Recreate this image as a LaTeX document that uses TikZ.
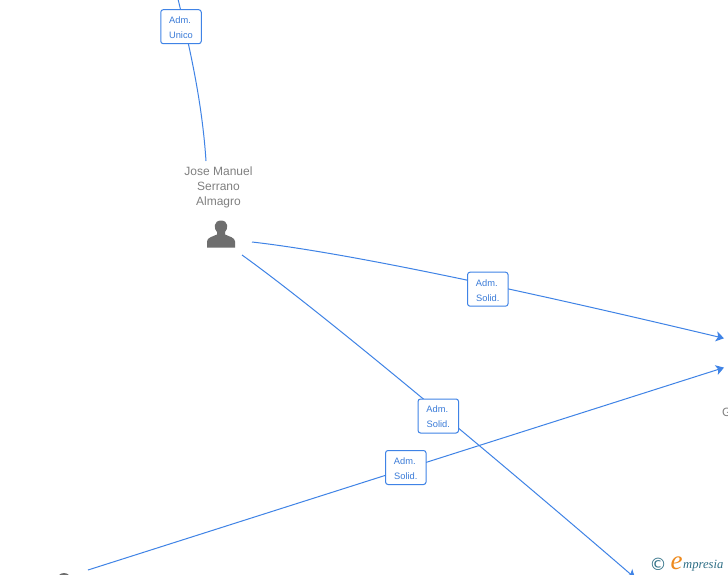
\documentclass[tikz,border=0pt]{standalone}
\usepackage{fontspec}
\setmainfont{Liberation Sans}
\newfontfamily\logoserif{Liberation Serif}
\newfontfamily\logosymbol{DejaVu Sans}
\usetikzlibrary{arrows.meta,backgrounds}
\definecolor{linkblue}{HTML}{3F83E6}
\definecolor{labelblue}{HTML}{3A7BD8}
\definecolor{persongray}{HTML}{6E6E6E}
\definecolor{textgray}{HTML}{808080}
\definecolor{logoteal}{HTML}{2F6F86}
\definecolor{logoorange}{HTML}{EE8A1D}
\newcommand{\rolelines}[2]{\rule{0pt}{9pt}#1\hspace*{2pt}\\#2}
\tikzset{
  link/.style={draw=linkblue,line width=1pt},
  linkarrow/.style={link,-{Stealth[length=8pt,width=10pt,inset=2pt]}},
  rolebox/.style={draw=linkblue,line width=1pt,fill=white,rounded corners=2.5pt,
    minimum width=40.5pt,minimum height=34pt,inner sep=0pt,align=center,
    font=\fontsize{9.3}{15}\selectfont,text=labelblue},
  personname/.style={font=\fontsize{12}{15}\selectfont,text=textgray,align=center,inner sep=0pt},
  personicon/.style={fill=persongray,draw=none}
}
\begin{document}
\begin{tikzpicture}[x=1pt,y=-1pt]
\useasboundingbox (0,0) rectangle (728,575);
\clip (0,0) rectangle (728,575);

\coordinate (topfree) at (178,-1);
\coordinate (topend) at (206,161);
\coordinate (personA) at (252,242);
\coordinate (personB) at (242,255);
\coordinate (targetA) at (724,338.3);
\coordinate (targetB) at (724,367.6);
\coordinate (targetC) at (635,578);
\coordinate (personC) at (88,570);

\node[rolebox] (unico) at (181,26.7) {\rolelines{Adm.}{Unico}};
\node[rolebox] (solA) at (487.8,289.2) {\rolelines{Adm.}{Solid.}};
\node[rolebox] (solB) at (438.3,416) {\rolelines{Adm.}{Solid.}};
\node[rolebox] (solC) at (405.8,467.5) {\rolelines{Adm.}{Solid.}};

\begin{scope}[on background layer]
\fill[white] (0,0) rectangle (728,575);
\draw[link] (topfree) .. controls (189,45) and (202,100) .. (topend);
\draw[linkarrow] (personA) .. controls (340,252) and (500,285) .. (targetA);
\draw[linkarrow] (personB) .. controls (330,318) and (540,496) .. (targetC);
\draw[linkarrow] (personC) -- (targetB);
\end{scope}

\node[personname] (name) at (218.5,187) {Jose Manuel\\Serrano\\Almagro};
\node[personname,anchor=west] (cutname) at (722,412) {G};

\path[personicon] (207,247.5) -- (207,241.5) .. controls (207,237.5) and (213,236.5) .. (217,234.5)
  -- (217,232) .. controls (213.5,229) and (213.5,220.5) .. (221,220.5)
  .. controls (228.5,220.5) and (228.5,229) .. (225,232) -- (225,234.5)
  .. controls (229,236.5) and (235,237.5) .. (235,241.5) -- (235,247.5) -- cycle;
\fill[persongray] (64,580) circle (7);

\node[inner sep=0pt,text=logoteal,font=\logosymbol\fontsize{17}{17}\selectfont] (copy) at (658,564) {©};
\node[inner sep=0pt,anchor=base west,text=logoorange,font=\logoserif\itshape\fontsize{27}{27}\selectfont] (logoe) at (670.5,569) {e};
\node[inner sep=0pt,anchor=base west,text=logoteal,font=\logoserif\itshape\fontsize{12.6}{13}\selectfont] (logotext) at (683,568) {mpresia};
\end{tikzpicture}
\end{document}
